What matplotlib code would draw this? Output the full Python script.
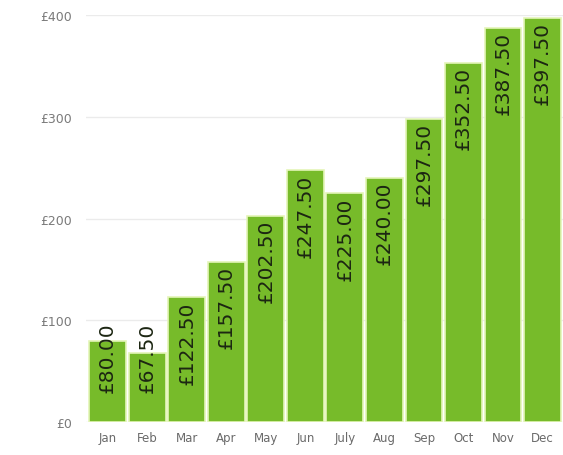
import matplotlib

matplotlib.use("Agg")
import matplotlib.pyplot as plt

MONTHS = ["Jan", "Feb", "Mar", "Apr", "May", "Jun", "July", "Aug", "Sep", "Oct", "Nov", "Dec"]
SPEND = [80.00, 67.50, 122.50, 157.50, 202.50, 247.50, 225.00, 240.00, 297.50, 352.50, 387.50, 397.50]
Y_TICKS = [0, 100, 200, 300, 400]

BAR_GREEN = "#77bb2a"
BAR_EDGE = "#e4f5b8"

fig = plt.figure(figsize=(5.63, 4.56), dpi=100)
ax = fig.add_axes([0.152, 0.072, 0.848, 0.893])

xs = list(range(len(MONTHS)))
ax.bar(xs, SPEND, width=0.93, color=BAR_GREEN, edgecolor=BAR_EDGE,
       linewidth=1.2, zorder=3)

# value labels sit inside the bar top; short bars get them lifted off the base
for x, v in zip(xs, SPEND):
    text = f"£{v:.2f}"
    if v < 100:
        ax.text(x, 30, text, rotation=90, ha="center", va="bottom",
                fontsize=14.5, color="#1c2612", zorder=4)
    else:
        ax.text(x, v - 3, text, rotation=90, ha="center", va="top",
                fontsize=14.5, color="#1c2612", zorder=4)

ax.set_xlim(-0.56, 11.52)
ax.set_ylim(0, 400)
ax.set_xticks(xs)
ax.set_xticklabels(MONTHS, fontsize=8.5, color="#6a6a6a")
ax.set_yticks(Y_TICKS)
ax.set_yticklabels([f"£{t}" for t in Y_TICKS], fontsize=9, color="#7a7a7a")
ax.tick_params(length=0, pad=10)
ax.tick_params(axis="x", pad=6)
ax.grid(True, axis="y", color="#ebebeb", linewidth=1.0, zorder=0)
for side in ("top", "right", "left", "bottom"):
    ax.spines[side].set_visible(False)

fig.savefig("out.png", dpi=100)
